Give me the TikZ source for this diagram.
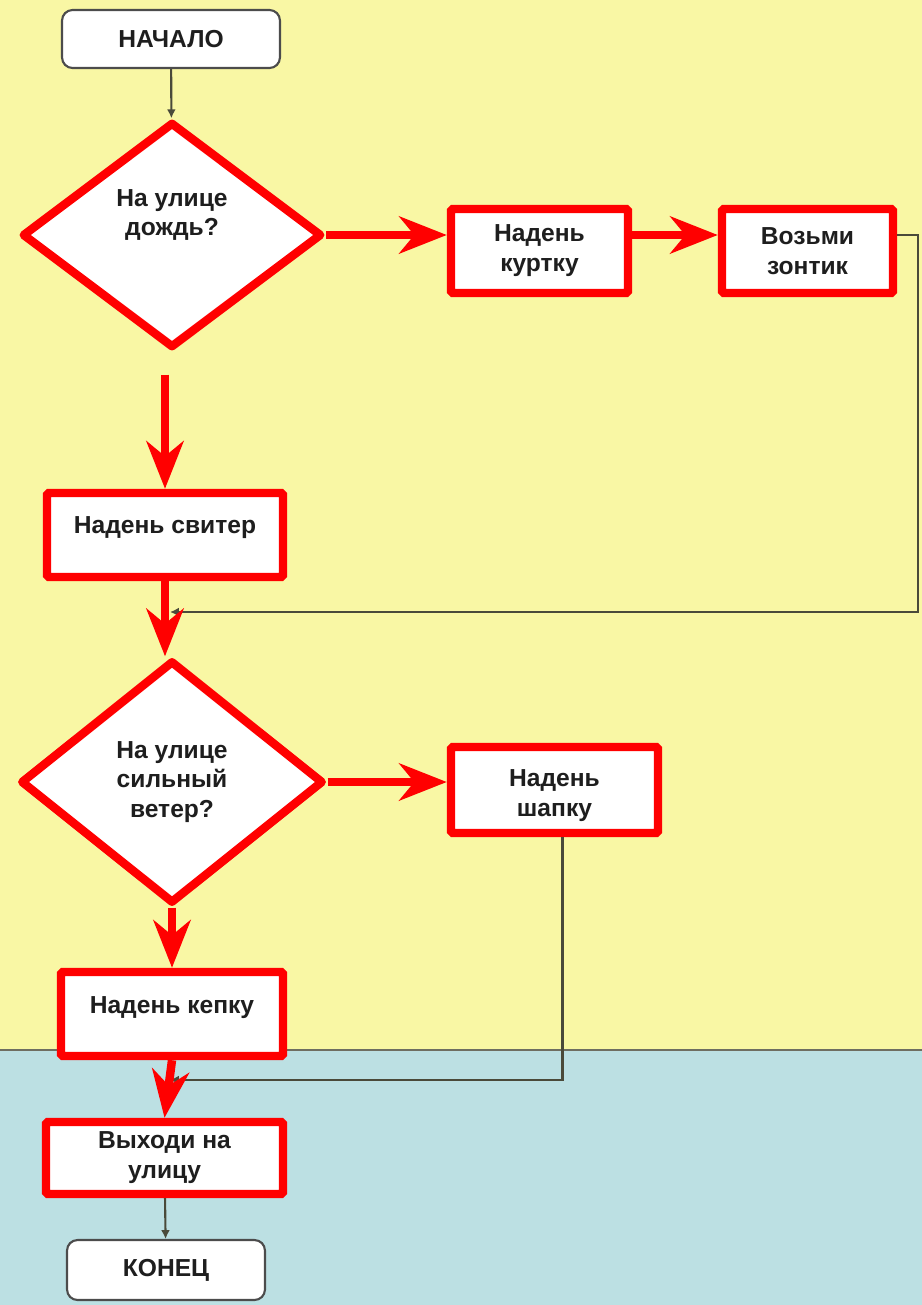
\documentclass[tikz,border=0pt]{standalone}
\usepackage{fontspec}
\setmainfont{Liberation Sans}
\usetikzlibrary{shapes.geometric}
\usetikzlibrary{arrows.meta}

\definecolor{yellowbg}{HTML}{F9F7A4}
\definecolor{bluebg}{HTML}{BCE0E3}
\definecolor{linkgray}{HTML}{4A4A3A}
\definecolor{ink}{HTML}{1E1E1E}

\tikzset{
	txt/.style={font=\bfseries\fontsize{14}{17}\selectfont, text=ink, align=center},
	redbox/.style={txt, draw=red, line width=4.8pt, fill=white, rounded corners=1pt, inner sep=0pt},
	redrhomb/.style={txt, diamond, draw=red, line width=4.8pt, fill=white, inner sep=0pt, line join=round},
	term/.style={txt, draw=gray!60!black, line width=1.2pt, rounded corners=6pt, fill=white, inner sep=0pt},
	redarr/.style={draw=red, line width=4.8pt, -{Stealth[length=0.95cm, width=0.74cm, inset=0.3cm]}},
	link/.style={draw=linkgray, line width=1.2pt, -{Latex[length=5pt, width=5pt]}}
}

\begin{document}
\begin{tikzpicture}[x=0.02cm, y=-0.02cm]
	\useasboundingbox (0,0) rectangle (922,1305);
	\fill[yellowbg] (0,0) rectangle (922,1050);
	\fill[bluebg] (0,1050) rectangle (922,1305);
	\draw[linkgray!80, line width=1.2pt] (0,1050) -- (922,1050);

	\node[term, minimum width=4.36cm, minimum height=1.16cm] (start) at (171,39) {НАЧАЛО};
	\node[redrhomb, minimum width=6cm, minimum height=4.52cm,
		label={[txt, yshift=0.4cm]center:{На улице\\дождь?}}] (rain) at (172,235) {};
	\node[redbox, minimum width=3.54cm, minimum height=1.68cm] (jacket) at (539.5,251) {Надень\\куртку};
	\node[redbox, minimum width=3.42cm, minimum height=1.68cm] (umbrella) at (807.5,251) {Возьми\\зонтик};
	\node[redbox, minimum width=4.72cm, minimum height=1.68cm, text height=10pt, text depth=12pt] (sweater) at (165,535) {Надень свитер};
	\node[redrhomb, minimum width=6.06cm, minimum height=4.86cm] (wind) at (172,782) {На улице\\сильный\\ветер?};
	\node[redbox, minimum width=4.14cm, minimum height=1.72cm,
		label={[txt, yshift=-0.12cm]center:{Надень\\шапку}}] (hat) at (554.5,790) {};
	\node[redbox, minimum width=4.44cm, minimum height=1.68cm, text height=10pt, text depth=11pt] (cap) at (172,1014) {Надень кепку};
	\node[redbox, minimum width=4.74cm, minimum height=1.44cm] (out) at (164.5,1158) {Выходи на\\улицу};
	\node[term, minimum width=3.96cm, minimum height=1.2cm] (finish) at (166,1270) {КОНЕЦ};

	\coordinate (loopA) at (918,612);
	\coordinate (joinA) at (170,612);
	\coordinate (joinB) at (170,1080);

	\draw[link] (start) -- (rain);
	\draw[link] (umbrella.east |- rain.east) -| (loopA) -- (joinA);
	\draw[link] ([xshift=0.16cm]hat.south) |- (joinB);
	\draw[link] (out) -- (finish);

	\draw[redarr] (rain.east) -- (rain.east -| jacket.west);
	\draw[redarr] (jacket.east |- rain.east) -- (umbrella.west |- rain.east);
	\draw[redarr, shorten <=0.45cm] (rain.south -| sweater.north) -- (sweater.north);
	\draw[redarr] (sweater.south) -- (sweater.south |- wind.north);
	\draw[redarr] (wind.east) -- (wind.east -| hat.west);
	\draw[redarr] (wind.south) -- (cap.north);
	\draw[redarr] (cap.south) -- (out.north);
\end{tikzpicture}
\end{document}
